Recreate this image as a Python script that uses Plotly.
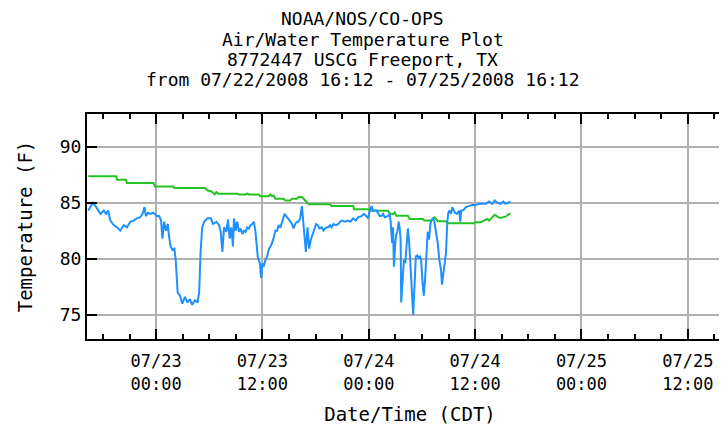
import pandas as pd
import plotly.graph_objects as go

# ---- data (hours after 2008-07-23 00:00 CDT, deg F) ----
water_hours = [-7.66, -7.40, -7.14, -6.84, -6.54, -6.28, -5.91, -5.65, -5.42, -5.16, -4.79, -4.41,
               -4.04, -3.66, -3.29, -2.92, -2.54, -2.17, -1.79, -1.53, -1.31, -1.16, -0.93, -0.67,
               -0.30, 0.07, 0.34, 0.56, 0.71, 0.90, 1.12, 1.31, 1.46, 1.64, 1.83, 2.06, 2.21, 2.43,
               2.69, 2.95, 3.25, 3.55, 3.81, 4.07, 4.37, 4.67, 4.86, 5.01, 5.20, 5.42, 5.79, 6.17,
               6.43, 6.80, 7.10, 7.29, 7.48, 7.66, 7.93, 8.11, 8.30, 8.49, 8.67,
               8.79, 8.97, 9.16, 9.35, 9.53, 9.72, 9.91, 10.09, 10.28, 10.47, 10.65, 10.84, 11.03,
               11.21, 11.33, 11.48, 11.70, 11.85, 12.00, 12.15, 12.34, 12.52, 12.71, 12.90, 13.08,
               13.27, 13.46, 13.65, 13.83, 14.02, 14.21, 14.39, 14.50, 14.69, 14.84, 15.07, 15.33,
               15.51, 15.70, 15.89, 16.07, 16.26, 16.45, 16.56, 16.71, 16.90, 17.08, 17.27, 17.46,
               17.64, 17.83, 18.06, 18.24, 18.43, 18.69, 18.88, 19.07, 19.25, 19.44, 19.63, 19.81,
               20.00, 20.30, 20.56, 20.75, 20.93, 21.31, 21.68, 21.94, 22.24, 22.54, 22.80, 23.18,
               23.44, 23.74, 23.92, 24.11, 24.30, 24.49, 24.86,
               25.23, 25.42, 25.61, 25.79, 26.17, 26.36, 26.47, 26.62, 26.73, 26.84, 26.99, 27.10,
               27.22, 27.37, 27.48, 27.59, 27.66, 27.81, 27.96, 28.11, 28.26, 28.41, 28.56, 28.71,
               28.86, 29.01, 29.16, 29.31, 29.46, 29.61, 29.76, 29.91, 30.06, 30.21, 30.36, 30.50,
               30.65, 30.80, 30.95, 31.10, 31.25, 31.40, 31.59, 31.78, 31.96, 32.15, 32.26, 32.41,
               32.56, 32.71, 32.86, 32.97, 33.12, 33.27, 33.42, 33.57, 33.72, 33.94, 34.21, 34.32,
               34.43, 34.58, 34.77, 34.95, 35.33, 35.70, 36.07, 36.45, 36.82, 37.20, 37.57, 37.94,
               38.21, 38.51, 38.88, 39.18, 39.44, 39.70, 40.00]
water_temp = [84.3, 84.7, 85.0, 84.7, 84.3, 84.0, 84.3, 84.0, 84.3, 83.4, 83.0, 82.8,
              82.5, 83.0, 82.8, 83.3, 83.4, 83.6, 83.7, 84.0, 84.6, 83.8, 84.1, 84.0,
              84.1, 83.8, 83.8, 83.4, 81.8, 83.3, 82.5, 83.1, 82.0, 81.1, 80.8, 80.9, 79.9, 77.0,
              76.7, 76.0, 76.6, 76.1, 76.4, 75.9, 76.3, 76.1, 77.0, 80.5, 82.8, 83.3, 83.6, 83.6,
              83.1, 83.3, 83.0, 82.4, 80.6, 82.8, 82.4, 83.5, 81.8, 82.8, 81.1,
              83.6, 82.5, 83.3, 82.4, 82.7, 82.2, 82.5, 82.4, 82.8, 82.7, 83.0, 83.1, 83.3,
              82.4, 81.1, 80.1, 79.6, 78.3, 79.6, 79.3, 79.9, 80.2, 80.8, 81.1, 81.4,
              81.9, 82.5, 82.5, 83.0, 82.8, 83.3, 83.6, 84.0, 83.8, 83.6, 83.4, 83.1,
              82.7, 83.1, 83.3, 83.3, 83.6, 84.7, 83.6, 82.2, 80.6, 82.8, 80.9, 81.7,
              82.1, 82.4, 83.1, 83.0, 82.7, 82.8, 82.5, 82.7, 82.8, 82.8, 83.0, 82.8,
              83.1, 83.0, 83.1, 83.3, 83.4, 83.3, 83.4, 83.3, 83.6, 83.4, 83.7, 83.8,
              84.0, 83.8, 83.6, 84.3, 84.7, 84.3, 84.3,
              83.8, 83.8, 84.0, 83.7, 83.8, 84.0, 83.3, 81.4, 82.8, 79.3, 81.4, 82.2,
              82.4, 83.3, 82.8, 81.7, 76.1, 78.5, 79.9, 79.6, 81.4, 82.7, 81.4, 79.0,
              77.0, 75.0, 77.6, 80.2, 80.3, 80.1, 80.2, 79.9, 77.9, 76.7, 78.3, 80.8,
              82.4, 81.7, 83.1, 83.5, 83.6, 83.3, 82.5, 81.4, 79.9, 79.0, 77.7, 78.7,
              79.6, 80.5, 83.3, 84.1, 84.3, 84.0, 84.6, 84.3, 84.1, 84.0, 84.3, 83.3,
              84.3, 84.3, 84.4, 84.6, 84.7, 84.8, 84.8, 84.9, 84.9, 84.9, 85.1, 84.9,
              85.2, 85.0, 84.9, 85.1, 84.9, 85.0, 85.1]

air_hours = [-7.66, -4.52, -4.41, -3.40, -3.29, -0.30, -0.11, 1.94, 2.06, 5.50, 5.79, 6.24,
             6.62, 6.80, 6.99, 9.16, 9.35, 10.09, 10.28, 10.47, 11.59, 11.77, 12.71, 12.90,
             13.08, 13.27, 13.46, 14.39, 14.58, 15.14, 15.33, 15.89, 16.07, 16.45, 16.64, 16.93,
             17.20, 19.63, 19.81, 22.24, 22.32, 24.11, 24.30, 26.17, 26.36, 26.73, 26.92, 27.10,
             28.41, 28.60, 30.09, 30.28, 31.03, 31.21, 31.40, 31.59, 31.78, 32.71, 32.90, 35.89,
             36.07, 36.64, 37.01, 37.38, 37.57, 37.94, 38.21, 38.51, 38.80, 39.07, 39.44, 39.70,
             40.00]
air_temp = [87.35, 87.35, 87.05, 87.05, 86.75, 86.75, 86.45, 86.45, 86.30, 86.30, 86.10, 86.00,
            85.75, 85.95, 85.80, 85.80, 85.73, 85.73, 85.81, 85.73, 85.73, 85.58, 85.58, 85.73,
            85.58, 85.64, 85.35, 85.35, 85.20, 85.20, 85.35, 85.35, 85.50, 85.50, 85.35, 85.09,
            84.86, 84.86, 84.71, 84.71, 84.42, 84.42, 84.27, 84.27, 84.04, 83.98, 84.13, 83.84,
            83.84, 83.55, 83.55, 83.40, 83.40, 83.55, 83.69, 83.55, 83.34, 83.34, 83.17, 83.17,
            83.26, 83.26, 83.40, 83.55, 83.40, 83.69, 83.92, 83.75, 83.63, 83.69, 83.75, 83.92,
            84.04]

y_ticks = [75, 80, 85, 90]
x_start = "2008-07-22 16:12"
x_end = "2008-07-25 17:06"
title_lines = ["NOAA/NOS/CO-OPS", "Air/Water Temperature Plot",
               "8772447 USCG Freeport, TX",
               "from 07/22/2008 16:12 - 07/25/2008 16:12"]

base = pd.Timestamp("2008-07-23 00:00")
water_t = [base + pd.Timedelta(hours=h) for h in water_hours]
air_t = [base + pd.Timedelta(hours=h) for h in air_hours]

FONT = "DejaVu Sans Mono"

fig = go.Figure()
fig.add_trace(go.Scatter(x=air_t, y=air_temp, mode="lines",
                         line=dict(color="#22C322", width=2), name="Air"))
fig.add_trace(go.Scatter(x=water_t, y=water_temp, mode="lines",
                         line=dict(color="#1E90FF", width=2), name="Water"))

PLOT_H = 225
for i, txt in enumerate(title_lines):
    fig.add_annotation(text=txt, xref="paper", yref="paper", x=0.427,
                       y=1 + (95 - 20.3 * i) / PLOT_H,
                       xanchor="center", yanchor="middle", showarrow=False,
                       font=dict(family=FONT, size=18, color="black"))

fig.update_layout(
    width=727, height=424,
    margin=dict(l=79, r=0, t=106, b=93),
    paper_bgcolor="white", plot_bgcolor="white",
    showlegend=False,
    font=dict(family=FONT, color="black"),
    xaxis=dict(
        range=[x_start, x_end], type="date",
        tick0="2008-07-23 00:00", dtick=12 * 3600 * 1000,
        tickformat="%m/%d<br>%H:%M",
        ticks="inside", ticklen=10, tickwidth=2, tickcolor="black",
        showline=True, linecolor="black", linewidth=2, mirror="ticks",
        showgrid=True, gridcolor="#B0B0B0", gridwidth=2,
        tickfont=dict(family=FONT, size=17),
        ticklabelstandoff=6,
        minor=dict(dtick=3 * 3600 * 1000, ticks="inside", ticklen=5, tickwidth=1.5,
                   tickcolor="black", showgrid=False),
        title=dict(text="Date/Time (CDT)", font=dict(family=FONT, size=19), standoff=15),
        zeroline=False,
    ),
    yaxis=dict(
        range=[72.85, 92.9],
        tickvals=y_ticks,
        ticks="inside", ticklen=10, tickwidth=2, tickcolor="black",
        showline=True, linecolor="black", linewidth=2, mirror="ticks",
        showgrid=True, gridcolor="#B0B0B0", gridwidth=2,
        tickfont=dict(family=FONT, size=18),
        title=dict(text="Temperature (F)", font=dict(family=FONT, size=19), standoff=22),
        zeroline=False,
    ),
)

fig.write_html("out.html")
